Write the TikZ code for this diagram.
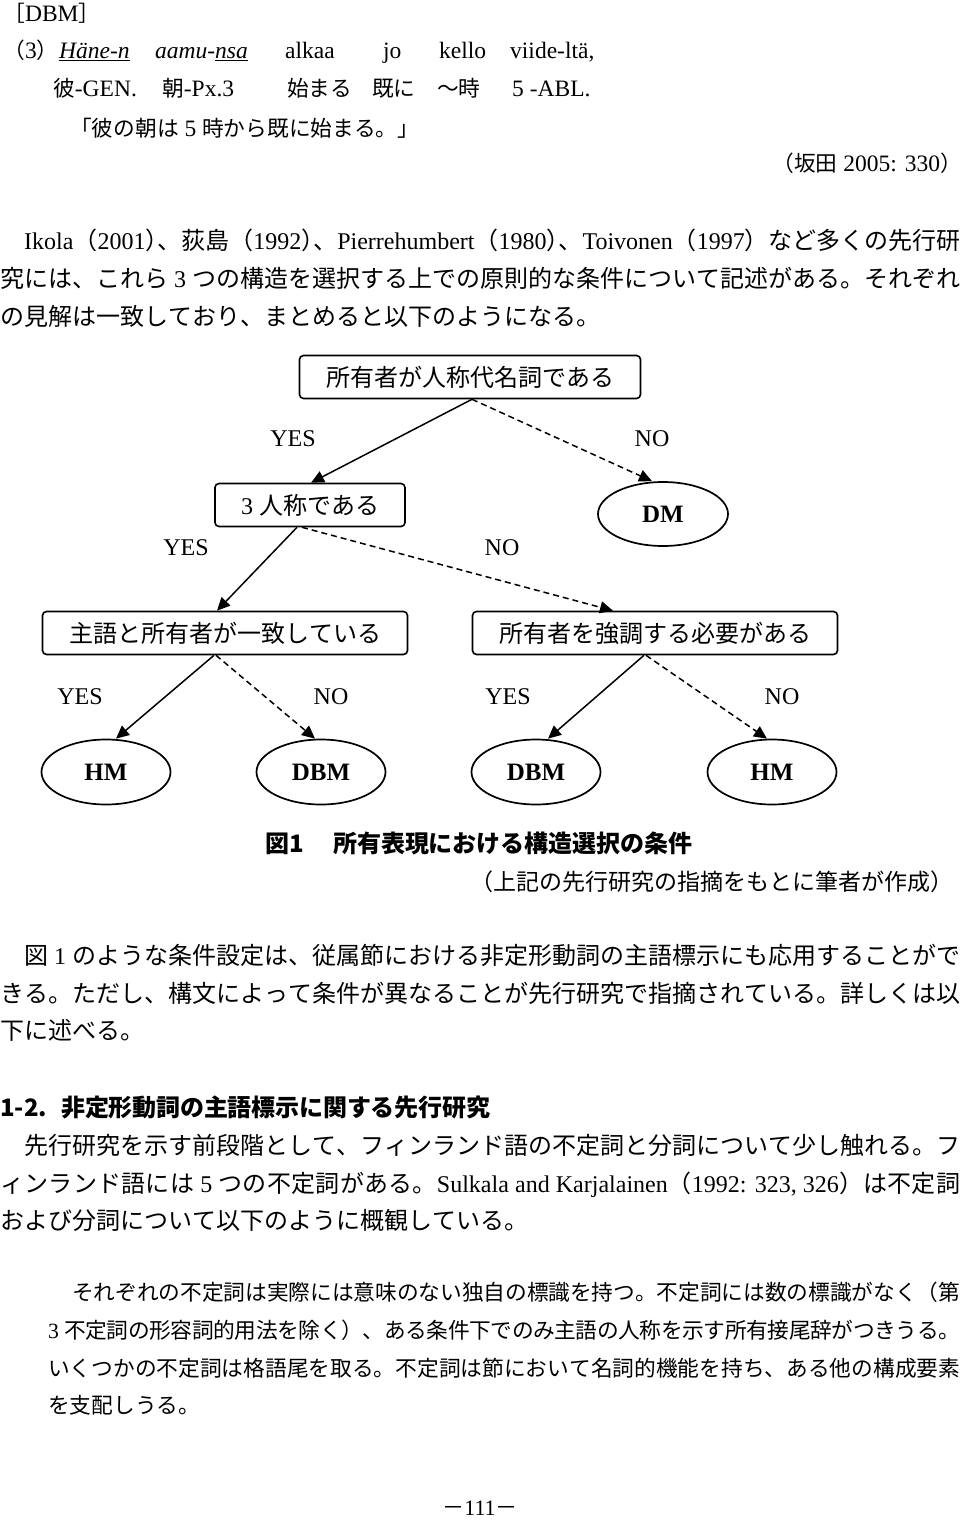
\documentclass[tikz,border=0pt]{standalone}
\usepackage{fontspec}
\setmainfont{Liberation Serif}
\newfontfamily\jpf{Noto Sans CJK JP}
\newfontfamily\jpfh{Noto Sans CJK JP}[RawFeature=+halt]
\usetikzlibrary{arrows.meta,shapes.geometric}
\makeatletter
\count@="3000
\loop
  \XeTeXcharclass\count@=10
  \advance\count@\@ne
\ifnum\count@<"A000 \repeat
\count@="FF00
\loop
  \XeTeXcharclass\count@=10
  \advance\count@\@ne
\ifnum\count@<"FFF0 \repeat
\makeatother
\def\cjksize{}
\def\latsize{}
\def\cjkfont{\cjksize\jpf}
\def\latfont{\latsize\rmfamily}
\XeTeXinterchartokenstate=1
\XeTeXinterchartoks 0 10 = {\cjkfont}
\XeTeXinterchartoks 4095 10 = {\cjkfont}
\XeTeXinterchartoks 10 0 = {\latfont}
\XeTeXinterchartoks 10 4095 = {\latfont}
\XeTeXinterchartoks 4095 0 = {\latfont}
\XeTeXinterchartoks 10 10 = {\hskip0pt plus .25em minus .1em\relax}
\newcommand\halfp[1]{{\def\cjkfont{\cjksize\jpfh}#1}}
\newcommand\jw[2]{\makebox[#1pt][s]{#2}}
\tikzset{
  body/.style={inner sep=0, anchor=base west, font=\fontsize{24}{24}\selectfont},
  small/.style={inner sep=0, anchor=base west, font=\fontsize{21.7}{22}\selectfont},
  ex/.style={inner sep=0, anchor=base west, font={\def\cjksize{\fontsize{21.7}{22}}\def\latsize{\fontsize{23.5}{24}}\fontsize{23.5}{24}\selectfont}},
  box/.style={draw, line width=1.6pt, rounded corners=4pt, inner sep=0,
    minimum height=43pt, font=\fontsize{24}{24}\selectfont},
  ell/.style={draw, ellipse, line width=1.7pt, inner sep=0, minimum width=129pt,
    minimum height=65pt, font=\fontsize{25}{25}\selectfont\bfseries},
  lab/.style={inner sep=0, font=\fontsize{24}{24}\selectfont},
  yes/.style={line width=1.5pt, -{Triangle[length=13pt,width=12pt]}},
  no/.style={yes, dash pattern=on 6pt off 4pt},
  head/.style={body, font=\fontsize{24}{24}\selectfont\bfseries\def\latfont{\jpf}},
}
\begin{document}
\begin{tikzpicture}[x=1pt,y=-1pt]
\useasboundingbox (0,0) rectangle (960,1520);
\fill[white] (0,0) rectangle (960,1520);
% example
\node[ex] (dbm) at (14,22) {\halfp{［}DBM\halfp{］}};
\node[ex] (e0) at (14,59) {\halfp{（}3\halfp{）}};
\node[ex] (e1) at (59,59) {\underline{\textit{Häne-n}}};
\node[ex] (e2) at (155,59) {\textit{aamu-\underline{nsa}}};
\node[ex] (e3) at (285,59) {alkaa};
\node[ex] (e4) at (383,59) {jo};
\node[ex] (e5) at (439,59) {kello};
\node[ex] (e6) at (510,59) {viide-ltä,};
\node[ex] (g1) at (53,96) {彼-GEN.};
\node[ex] (g2) at (162,96) {朝-Px.3};
\node[ex] (g3) at (287,96) {始まる};
\node[ex] (g4) at (372,96) {既に};
\node[ex] (g5) at (437,96) {～時};
\node[ex] (g6) at (512,96) {5 -ABL.};
\node[ex] (tr) at (70,136) {「彼の朝は 5 時から既に始まる。」};
\node[ex,anchor=base east] (src) at (962,171) {（坂田 2005: 330）};
% paragraph 1
\node[body] (p11) at (24,249) {\jw{936}{Ikola（2001\halfp{）}、荻島（1992\halfp{）}、Pierrehumbert（1980\halfp{）}、Toivonen（1997）など多くの先行研}};
\node[body] (p12) at (0,287) {\jw{960}{究には、これら 3 つの構造を選択する上での原則的な条件について記述がある。それぞれ}};
\node[body] (p13) at (0,325) {の見解は一致しており、まとめると以下のようになる。};
% diagram
\node[box, minimum width=341pt] (b1) at (470,377) {所有者が人称代名詞である};
\node[box, minimum width=190pt] (b2) at (310,505) {3 人称である};
\node[ell, minimum width=130pt, minimum height=64pt] (dm) at (663,514) {DM};
\node[box, minimum width=365pt] (b3) at (225,633) {主語と所有者が一致している};
\node[box, minimum width=365pt] (b4) at (655,633) {所有者を強調する必要がある};
\node[ell] (hm1) at (106,772) {HM};
\node[ell] (dbm1) at (321,772) {DBM};
\node[ell] (dbm2) at (536,772) {DBM};
\node[ell] (hm2) at (772,772) {HM};
\node[lab] (y1) at (293,439) {YES};
\node[lab] (n1) at (652,439) {NO};
\node[lab] (y2) at (186,548) {YES};
\node[lab] (n2) at (502,548) {NO};
\node[lab] (y3) at (80,697) {YES};
\node[lab] (n3) at (331,697) {NO};
\node[lab] (y4) at (508,697) {YES};
\node[lab] (n4) at (782,697) {NO};
\draw[yes] ([xshift=2pt]b1.south) -- ([xshift=1pt]b2.north);
\draw[no] ([xshift=2pt]b1.south) -- ([xshift=-11pt]dm.north);
\draw[yes] ([xshift=-13pt]b2.south) -- ([xshift=-8pt]b3.north);
\draw[no] ([xshift=-8pt]b2.south) -- ([xshift=-42pt]b4.north);
\draw[yes] ([xshift=-11pt]b3.south) -- ([xshift=10pt]hm1.north);
\draw[no] ([xshift=-9pt]b3.south) -- ([xshift=-6pt]dbm1.north);
\draw[yes] ([xshift=-11pt]b4.south) -- ([xshift=12pt]dbm2.north);
\draw[no] ([xshift=-9pt]b4.south) -- ([xshift=-5pt]hm2.north);
% caption
\node[head] (c1) at (265,852) {図1};
\node[head] (c2) at (333,852) {\jw{359}{所有表現における構造選択の条件}};
\node[body,anchor=base east,font=\fontsize{23}{23}\selectfont] (c3) at (954,890) {（上記の先行研究の指摘をもとに筆者が作成）};
% paragraph 2
\node[body] (p21) at (24,964) {\jw{936}{図 1 のような条件設定は、従属節における非定形動詞の主語標示にも応用することがで}};
\node[body] (p22) at (0,1002) {\jw{960}{きる。ただし、構文によって条件が異なることが先行研究で指摘されている。詳しくは以}};
\node[body] (p23) at (0,1039) {下に述べる。};
% heading
\node[head] (h1) at (0,1116) {1-2.};
\node[head] (h2) at (61,1116) {\jw{429}{非定形動詞の主語標示に関する先行研究}};
% paragraph 3
\node[body] (p31) at (24,1154) {\jw{936}{先行研究を示す前段階として、フィンランド語の不定詞と分詞について少し触れる。フ}};
\node[body] (p32) at (0,1192) {\jw{960}{ィンランド語には 5 つの不定詞がある。Sulkala and Karjalainen（1992: 323, 326）は不定詞}};
\node[body] (p33) at (0,1229) {および分詞について以下のように概観している。};
% quote
\node[small] (q1) at (72,1300) {\jw{888}{それぞれの不定詞は実際には意味のない独自の標識を持つ。不定詞には数の標識がなく（第}};
\node[small] (q2) at (48,1338) {\jw{912}{3 不定詞の形容詞的用法を除く）、ある条件下でのみ主語の人称を示す所有接尾辞がつきうる。}};
\node[small] (q3) at (48,1376) {\jw{912}{いくつかの不定詞は格語尾を取る。不定詞は節において名詞的機能を持ち、ある他の構成要素}};
\node[small] (q4) at (48,1413) {を支配しうる。};
% page number
\node[lab,font=\fontsize{22}{22}\selectfont] (pg) at (480,1508) {－111－};
\end{tikzpicture}
\end{document}
